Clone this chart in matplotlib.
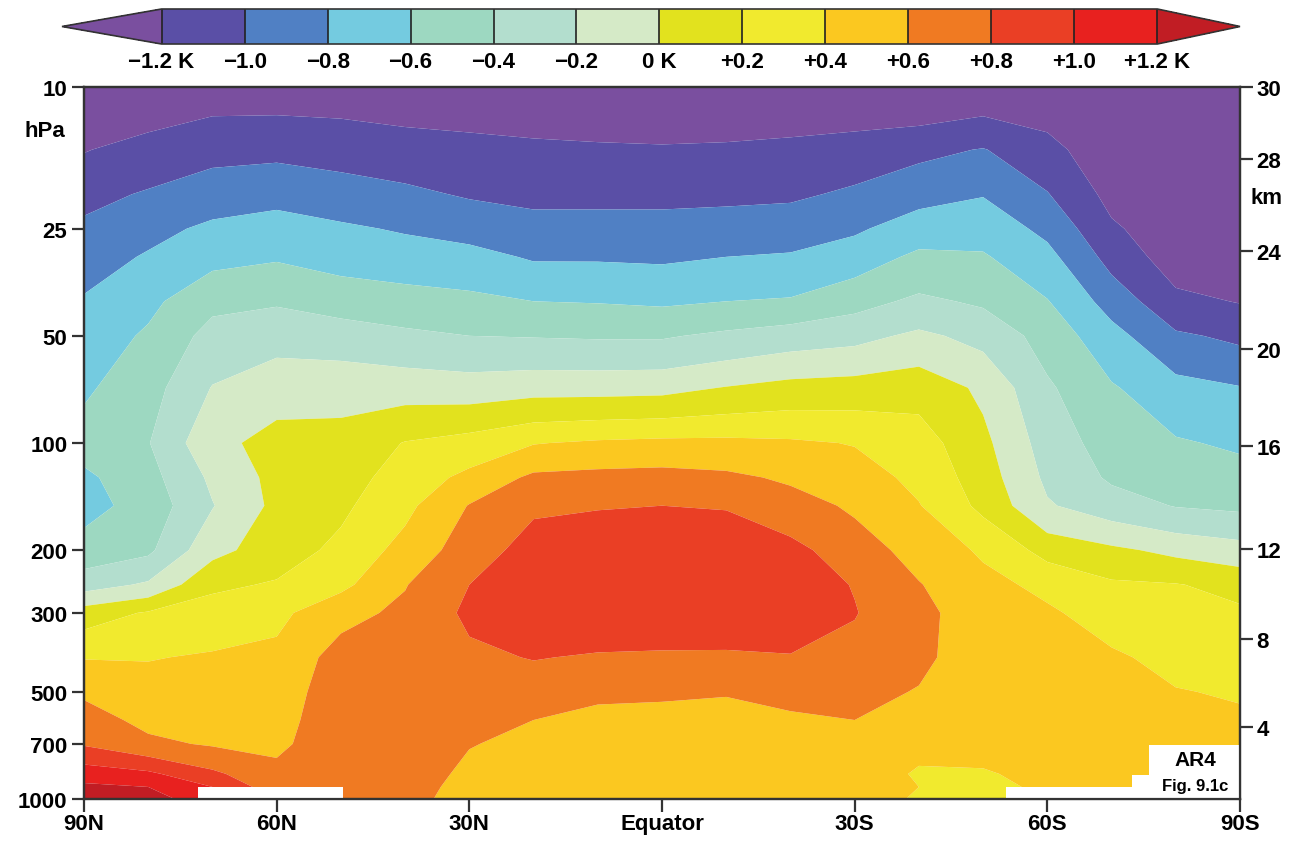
import matplotlib
matplotlib.use("Agg")
import matplotlib.pyplot as plt
import numpy as np
from matplotlib.colors import ListedColormap, BoundaryNorm
from matplotlib.patches import Rectangle
from matplotlib.ticker import NullLocator

plt.rcParams["font.family"] = ["Liberation Sans Narrow", "Liberation Sans", "DejaVu Sans"]
plt.rcParams["font.weight"] = "bold"

# zonal mean temperature change (K)
LATITUDES = [90, 80, 70, 60, 50, 40, 30, 20, 10, 0, -10, -20, -30, -40, -50, -60, -70, -80, -90]
PRESSURE_HPA = [10, 15, 20, 25, 30, 40, 50, 70, 100, 125, 150, 200, 250, 300, 400, 500, 600, 700, 850, 925, 1000]
TEMP_CHANGE_K = [
    [-1.40, -1.35, -1.30, -1.30, -1.30, -1.33, -1.33, -1.35, -1.38, -1.38, -1.38, -1.40, -1.40, -1.40, -1.35, -1.35, -1.45, -1.45, -1.50],
    [-1.21, -1.13, -1.06, -1.05, -1.08, -1.11, -1.14, -1.16, -1.17, -1.18, -1.17, -1.14, -1.10, -1.05, -0.99, -1.13, -1.35, -1.40, -1.45],
    [-1.06, -0.98, -0.90, -0.86, -0.91, -0.96, -1.02, -1.05, -1.05, -1.05, -1.04, -1.03, -0.97, -0.87, -0.81, -0.99, -1.26, -1.35, -1.42],
    [-0.96, -0.86, -0.76, -0.72, -0.77, -0.82, -0.87, -0.93, -0.93, -0.93, -0.92, -0.90, -0.83, -0.70, -0.68, -0.85, -1.17, -1.32, -1.40],
    [-0.89, -0.78, -0.66, -0.62, -0.68, -0.71, -0.74, -0.82, -0.82, -0.83, -0.80, -0.78, -0.70, -0.56, -0.58, -0.74, -1.07, -1.30, -1.37],
    [-0.78, -0.65, -0.45, -0.42, -0.48, -0.52, -0.55, -0.60, -0.61, -0.63, -0.60, -0.58, -0.47, -0.36, -0.43, -0.59, -0.88, -1.15, -1.21],
    [-0.72, -0.57, -0.33, -0.28, -0.31, -0.36, -0.40, -0.41, -0.42, -0.42, -0.36, -0.30, -0.26, -0.16, -0.26, -0.48, -0.73, -0.97, -1.04],
    [-0.63, -0.48, -0.19, -0.07, -0.06, -0.08, -0.10, -0.07, -0.07, -0.06, 0.01, 0.07, 0.09, 0.13, -0.04, -0.37, -0.58, -0.73, -0.79],
    [-0.52, -0.41, -0.05, 0.06, 0.06, 0.21, 0.28, 0.39, 0.43, 0.45, 0.45, 0.43, 0.39, 0.29, 0.05, -0.29, -0.49, -0.58, -0.63],
    [-0.64, -0.47, -0.16, 0.06, 0.11, 0.29, 0.45, 0.64, 0.66, 0.67, 0.64, 0.57, 0.49, 0.35, 0.10, -0.24, -0.43, -0.49, -0.53],
    [-0.67, -0.52, -0.21, 0.05, 0.16, 0.35, 0.61, 0.77, 0.79, 0.80, 0.79, 0.68, 0.57, 0.41, 0.15, -0.18, -0.31, -0.41, -0.44],
    [-0.52, -0.44, -0.06, 0.10, 0.25, 0.47, 0.70, 0.88, 0.90, 0.90, 0.90, 0.86, 0.69, 0.53, 0.37, 0.13, 0.04, -0.05, -0.12],
    [-0.29, -0.17, 0.16, 0.22, 0.35, 0.59, 0.80, 0.93, 0.95, 0.95, 0.94, 0.90, 0.79, 0.61, 0.46, 0.35, 0.23, 0.21, 0.14],
    [0.10, 0.22, 0.29, 0.35, 0.54, 0.64, 0.84, 0.93, 0.94, 0.94, 0.93, 0.90, 0.81, 0.65, 0.50, 0.43, 0.31, 0.26, 0.23],
    [0.39, 0.39, 0.42, 0.45, 0.68, 0.70, 0.76, 0.81, 0.78, 0.77, 0.77, 0.79, 0.74, 0.64, 0.50, 0.48, 0.43, 0.34, 0.31],
    [0.57, 0.48, 0.48, 0.49, 0.72, 0.72, 0.70, 0.69, 0.63, 0.62, 0.61, 0.66, 0.65, 0.59, 0.48, 0.50, 0.47, 0.41, 0.38],
    [0.68, 0.55, 0.53, 0.53, 0.72, 0.72, 0.65, 0.60, 0.56, 0.56, 0.55, 0.57, 0.60, 0.50, 0.46, 0.48, 0.47, 0.45, 0.43],
    [0.78, 0.64, 0.58, 0.56, 0.72, 0.72, 0.61, 0.55, 0.53, 0.53, 0.52, 0.53, 0.55, 0.45, 0.44, 0.46, 0.46, 0.47, 0.50],
    [1.11, 1.04, 0.84, 0.65, 0.75, 0.72, 0.55, 0.50, 0.50, 0.50, 0.50, 0.50, 0.50, 0.38, 0.39, 0.43, 0.45, 0.48, 0.50],
    [1.24, 1.20, 1.00, 0.68, 0.77, 0.70, 0.52, 0.48, 0.50, 0.50, 0.50, 0.50, 0.48, 0.40, 0.37, 0.42, 0.45, 0.48, 0.50],
    [1.30, 1.27, 1.10, 0.70, 0.78, 0.68, 0.50, 0.47, 0.50, 0.50, 0.50, 0.50, 0.48, 0.38, 0.36, 0.42, 0.45, 0.48, 0.50],
]

# areas left blank near the surface: (lat from, lat to, top pressure)
BLANK_AREAS = [(72.3, 49.7, 925), (-53.6, -90, 925), (-73.2, -90, 857)]

LEVELS = [-1.2, -1.0, -0.8, -0.6, -0.4, -0.2, 0.0, 0.2, 0.4, 0.6, 0.8, 1.0, 1.2]
LEVEL_LABELS = ["\u22121.2 K", "\u22121.0", "\u22120.8", "\u22120.6", "\u22120.4", "\u22120.2", "0 K",
                "+0.2", "+0.4", "+0.6", "+0.8", "+1.0", "+1.2 K"]
BAND_COLORS = ["#5a4fa6", "#5080c4", "#74cbe0", "#9dd8c1", "#b3dece", "#d5eac7",
               "#e2e21e", "#f1ea2e", "#fbc820", "#f07a22", "#ea3f25", "#e8211f"]
UNDER_COLOR = "#7a4f9f"
OVER_COLOR = "#c11d24"

LAT_TICKS = [90, 60, 30, 0, -30, -60, -90]
LAT_LABELS = ["90N", "60N", "30N", "Equator", "30S", "60S", "90S"]
P_TICKS = [10, 25, 50, 100, 200, 300, 500, 700, 1000]
KM_TICK_HPA = [10, 15.9, 28.9, 54.4, 101.9, 198.6, 355.6, 628]
KM_LABELS = ["30", "28", "24", "20", "16", "12", "8", "4"]

FS = 16

W, H = 1297, 854
fig = plt.figure(figsize=(W / 100, H / 100), dpi=100)
ax = fig.add_axes([84 / W, 1 - 800 / H, 1156 / W, 712 / H])

cmap = ListedColormap(BAND_COLORS)
cmap.set_under(UNDER_COLOR)
cmap.set_over(OVER_COLOR)
norm = BoundaryNorm(LEVELS, cmap.N)

lat = np.array(LATITUDES)
pres = np.array(PRESSURE_HPA)
dT = np.array(TEMP_CHANGE_K)
cf = ax.contourf(lat, pres, dT, levels=LEVELS, cmap=cmap, norm=norm, extend="both", antialiased=True)

for la0, la1, ptop in BLANK_AREAS:
    ax.fill_between([la0, la1], ptop, 1000, color="white", lw=0, zorder=3)

ax.set_yscale("log")
ax.set_ylim(1000, 10)
ax.set_xlim(90, -90)
ax.yaxis.set_minor_locator(NullLocator())
ax.set_yticks(P_TICKS)
ax.set_yticklabels([str(p) for p in P_TICKS])
ax.set_xticks(LAT_TICKS)
ax.set_xticklabels(LAT_LABELS)
ax.tick_params(direction="out", length=9, width=1.6, labelsize=FS, pad=3, color="#333333")
ax.tick_params(axis="x", pad=1)

ax2 = ax.twinx()
ax2.set_yscale("log")
ax2.set_ylim(1000, 10)
ax2.yaxis.set_minor_locator(NullLocator())
ax2.set_yticks(KM_TICK_HPA)
ax2.set_yticklabels(KM_LABELS)
ax2.tick_params(direction="out", length=9, width=1.6, labelsize=FS, pad=3, color="#333333")

for a in (ax, ax2):
    for sp in a.spines.values():
        sp.set_linewidth(1.6)
        sp.set_color("#333333")

fig.text(45 / W, 1 - 132 / H, "hPa", ha="center", va="center", fontsize=FS, fontweight="bold")
fig.text(1266 / W, 1 - 198 / H, "km", ha="center", va="center", fontsize=FS, fontweight="bold")

# figure tag in the lower right corner
ax.add_patch(Rectangle((0.921, 0.0), 0.079, 0.076, transform=ax.transAxes,
                       facecolor="white", edgecolor="none", zorder=4))
ax.text(0.961, 0.055, "AR4", transform=ax.transAxes, ha="center", va="center",
        fontsize=15, fontweight="bold", zorder=5)
ax.text(0.961, 0.019, "Fig. 9.1c", transform=ax.transAxes, ha="center", va="center",
        fontsize=12, fontweight="bold", zorder=5)

# colour bar: interior spans x 162..1157 px, triangles reach 62 and 1240
cax = fig.add_axes([62 / W, 1 - 45 / H, 1178 / W, 35 / H])
cb = fig.colorbar(cf, cax=cax, orientation="horizontal", extendfrac=[0.1, 0.083],
                  drawedges=True, ticks=LEVELS)
cb.set_ticklabels(LEVEL_LABELS)
cb.outline.set_linewidth(1.2)
cb.outline.set_edgecolor("#333333")
cb.dividers.set_color("#222222")
cb.dividers.set_linewidth(1.2)
cax.tick_params(length=0, labelsize=FS, pad=5)

fig.savefig("out.png", dpi=100)
